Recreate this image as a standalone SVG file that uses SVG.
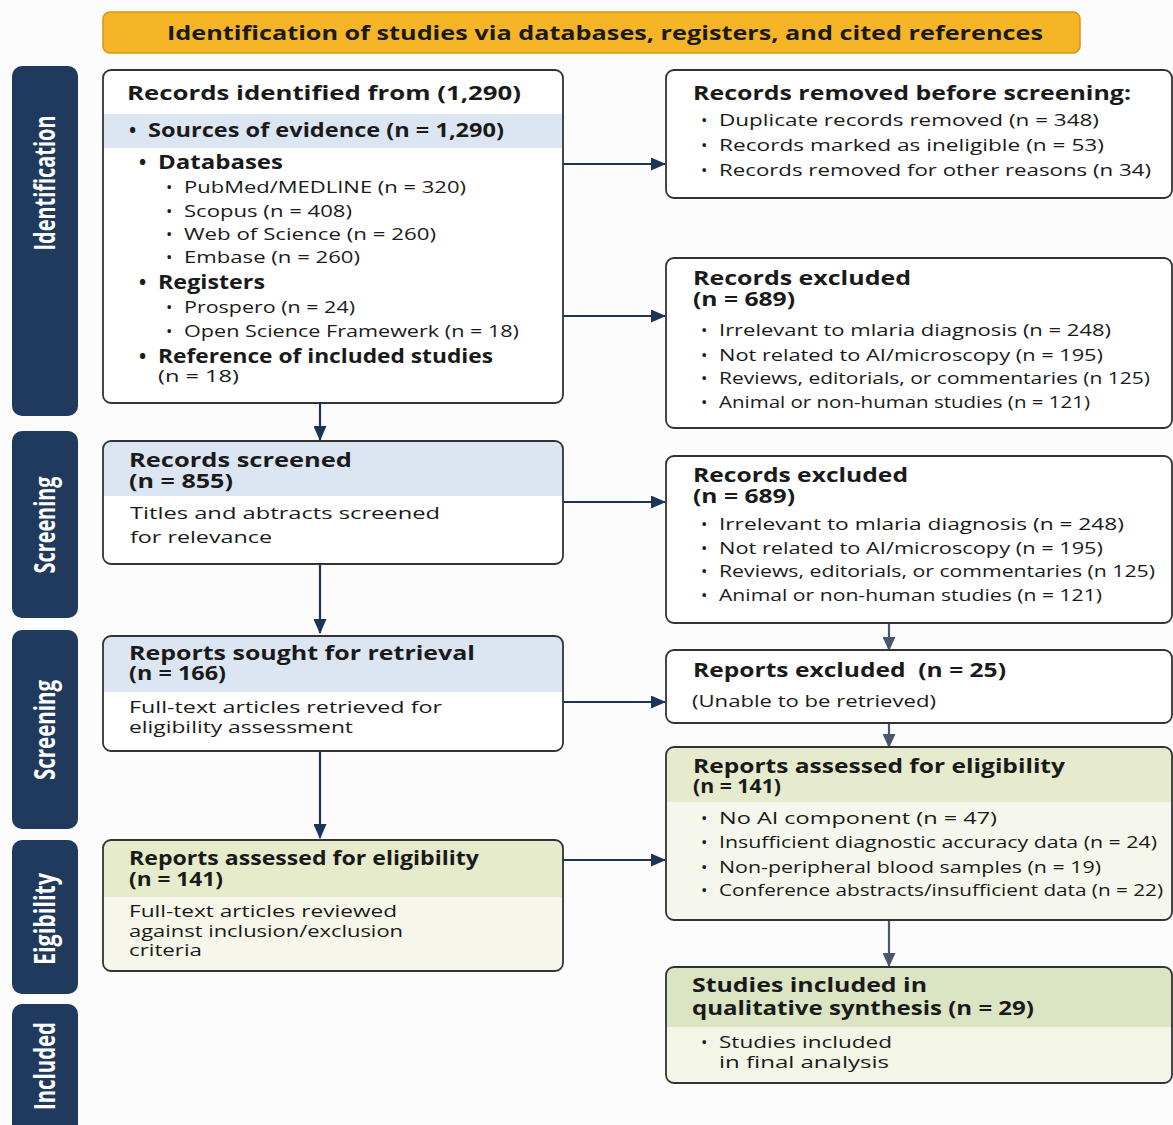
<svg xmlns="http://www.w3.org/2000/svg" width="1173" height="1125" viewBox="0 0 1173 1125">
<defs>
<style>
text{font-family:"Open Sans","Noto Sans",sans-serif;fill:#1a1a1a}
.t{font-size:19px;font-weight:700}
.b{font-size:17px;font-weight:400}
.side{font-size:28px;font-weight:700;fill:#ffffff;text-anchor:middle}
.lab{fill:#1F3A5C}
.box{fill:none;stroke:#333333;stroke-width:1.8}
.c{stroke:#1C3556;stroke-width:2.2;fill:none}
.g{stroke:#4A5670;stroke-width:2.2;fill:none}
</style>
<marker id="ah" viewBox="0 0 15 13" refX="14" refY="6.5" markerWidth="15" markerHeight="13" markerUnits="userSpaceOnUse" orient="auto">
<path d="M0,0 L15,6.5 L0,13 Z" fill="#1C3556"/>
</marker>
<marker id="ahg" viewBox="0 0 14 13" refX="13" refY="6.5" markerWidth="14" markerHeight="13" markerUnits="userSpaceOnUse" orient="auto">
<path d="M0,0 L14,6.5 L0,13 Z" fill="#4A5670"/>
</marker>
</defs>
<rect width="1173" height="1125" fill="#FCFCFC"/>

<g id="banner">
<rect x="103" y="12" width="977" height="41" rx="7" fill="#F6B526" stroke="#D9950F" stroke-width="1.5"/>
<text class="t" x="167" y="40" textLength="876" lengthAdjust="spacingAndGlyphs">Identification of studies via databases, registers, and cited references</text>
</g>

<g id="side-labels">
<g id="lab-identification"><rect class="lab" x="12" y="66" width="66" height="350" rx="10"/><text class="side" transform="translate(55,183) rotate(-90)" textLength="135" lengthAdjust="spacingAndGlyphs">Identification</text></g>
<g id="lab-screening1"><rect class="lab" x="12" y="431" width="66" height="187" rx="10"/><text class="side" transform="translate(55,525) rotate(-90)" textLength="97" lengthAdjust="spacingAndGlyphs">Screening</text></g>
<g id="lab-screening2"><rect class="lab" x="12" y="630" width="66" height="199" rx="10"/><text class="side" transform="translate(55,730) rotate(-90)" textLength="100" lengthAdjust="spacingAndGlyphs">Screening</text></g>
<g id="lab-eligibility"><rect class="lab" x="12" y="840" width="66" height="154" rx="10"/><text class="side" transform="translate(55,919) rotate(-90)" textLength="92" lengthAdjust="spacingAndGlyphs">Eigibility</text></g>
<g id="lab-included"><rect class="lab" x="12" y="1004" width="66" height="140" rx="10"/><text class="side" transform="translate(55,1066) rotate(-90)" textLength="88" lengthAdjust="spacingAndGlyphs">Included</text></g>
</g>

<g id="connectors">
<line class="c" x1="563" y1="164" x2="665" y2="164" marker-end="url(#ah)"/>
<line class="c" x1="563" y1="316" x2="665" y2="316" marker-end="url(#ah)"/>
<line class="c" x1="320" y1="403" x2="320" y2="440" marker-end="url(#ah)"/>
<line class="c" x1="563" y1="502" x2="665" y2="502" marker-end="url(#ah)"/>
<line class="c" x1="320" y1="564" x2="320" y2="633" marker-end="url(#ah)"/>
<line class="c" x1="563" y1="702" x2="665" y2="702" marker-end="url(#ah)"/>
<line class="c" x1="320" y1="751" x2="320" y2="838" marker-end="url(#ah)"/>
<line class="c" x1="563" y1="860" x2="665" y2="860" marker-end="url(#ah)"/>
<line class="g" x1="889" y1="623" x2="889" y2="650" marker-end="url(#ahg)"/>
<line class="g" x1="889" y1="723" x2="889" y2="747" marker-end="url(#ahg)"/>
<line class="g" x1="889" y1="920" x2="889" y2="966" marker-end="url(#ahg)"/>
</g>

<g id="n-identified">
<rect x="103" y="70" width="460" height="333" rx="8" fill="#FFFFFF"/>
<rect x="104" y="114" width="458" height="34" fill="#DCE6F3"/>
<rect class="box" x="103" y="70" width="460" height="333" rx="8"/>
<text class="t" x="127" y="100" textLength="394" lengthAdjust="spacingAndGlyphs">Records identified from (1,290)</text>
<text class="t" x="129" y="137">•</text>
<text class="t" x="148" y="137" textLength="356" lengthAdjust="spacingAndGlyphs">Sources of evidence (n = 1,290)</text>
<text class="t" x="139" y="169">•</text>
<text class="t" x="158" y="169" textLength="125" lengthAdjust="spacingAndGlyphs">Databases</text>
<text class="b" x="166" y="193">•</text>
<text class="b" x="184" y="193" textLength="282" lengthAdjust="spacingAndGlyphs">PubMed/MEDLINE (n = 320)</text>
<text class="b" x="166" y="217">•</text>
<text class="b" x="184" y="217" textLength="168" lengthAdjust="spacingAndGlyphs">Scopus (n = 408)</text>
<text class="b" x="166" y="240">•</text>
<text class="b" x="184" y="240" textLength="252" lengthAdjust="spacingAndGlyphs">Web of Science (n = 260)</text>
<text class="b" x="166" y="263">•</text>
<text class="b" x="184" y="263" textLength="176" lengthAdjust="spacingAndGlyphs">Embase (n = 260)</text>
<text class="t" x="139" y="289">•</text>
<text class="t" x="158" y="289" textLength="107" lengthAdjust="spacingAndGlyphs">Registers</text>
<text class="b" x="166" y="313">•</text>
<text class="b" x="184" y="313" textLength="171" lengthAdjust="spacingAndGlyphs">Prospero (n = 24)</text>
<text class="b" x="166" y="337">•</text>
<text class="b" x="184" y="337" textLength="335" lengthAdjust="spacingAndGlyphs">Open Science Framewerk (n = 18)</text>
<text class="t" x="139" y="363">•</text>
<text class="t"><tspan x="158" y="363" textLength="335" lengthAdjust="spacingAndGlyphs">Reference of included studies</tspan><tspan class="b" x="158" y="382" textLength="81" lengthAdjust="spacingAndGlyphs" style="font-size:17px;font-weight:400">(n = 18)</tspan></text>
</g>

<g id="n-removed">
<rect x="666" y="70" width="506" height="128" rx="8" fill="#FFFFFF"/>
<rect class="box" x="666" y="70" width="506" height="128" rx="8"/>
<text class="t" x="693" y="100" textLength="438" lengthAdjust="spacingAndGlyphs">Records removed before screening:</text>
<text class="b" x="701" y="126">•</text>
<text class="b" x="719" y="126" textLength="380" lengthAdjust="spacingAndGlyphs">Duplicate records removed (n = 348)</text>
<text class="b" x="701" y="151">•</text>
<text class="b" x="719" y="151" textLength="385" lengthAdjust="spacingAndGlyphs">Records marked as ineligible (n = 53)</text>
<text class="b" x="701" y="176">•</text>
<text class="b" x="719" y="176" textLength="432" lengthAdjust="spacingAndGlyphs">Records removed for other reasons (n 34)</text>
</g>

<g id="n-excluded1">
<rect x="666" y="258" width="506" height="170" rx="8" fill="#FFFFFF"/>
<rect class="box" x="666" y="258" width="506" height="170" rx="8"/>
<text class="t"><tspan x="693" y="285" textLength="218" lengthAdjust="spacingAndGlyphs">Records excluded</tspan><tspan x="693" y="306" textLength="102" lengthAdjust="spacingAndGlyphs">(n = 689)</tspan></text>
<text class="b" x="701" y="336">•</text>
<text class="b" x="719" y="336" textLength="392" lengthAdjust="spacingAndGlyphs">Irrelevant to mlaria diagnosis (n = 248)</text>
<text class="b" x="701" y="361">•</text>
<text class="b" x="719" y="361" textLength="384" lengthAdjust="spacingAndGlyphs">Not related to AI/microscopy (n = 195)</text>
<text class="b" x="701" y="384">•</text>
<text class="b" x="719" y="384" textLength="431" lengthAdjust="spacingAndGlyphs">Reviews, editorials, or commentaries (n 125)</text>
<text class="b" x="701" y="408">•</text>
<text class="b" x="719" y="408" textLength="371" lengthAdjust="spacingAndGlyphs">Animal or non-human studies (n = 121)</text>
</g>

<g id="n-screened">
<rect x="103" y="441" width="460" height="123" rx="8" fill="#FFFFFF"/>
<path d="M103,496 V449 Q103,441 111,441 H555 Q563,441 563,449 V496 Z" fill="#DCE6F3"/>
<rect class="box" x="103" y="441" width="460" height="123" rx="8"/>
<text class="t"><tspan x="129" y="467" textLength="223" lengthAdjust="spacingAndGlyphs">Records screened</tspan><tspan x="129" y="488" textLength="104" lengthAdjust="spacingAndGlyphs">(n = 855)</tspan></text>
<text class="b" x="130" y="519" textLength="310" lengthAdjust="spacingAndGlyphs">Titles and abtracts screened</text>
<text class="b" x="130" y="543" textLength="142" lengthAdjust="spacingAndGlyphs">for relevance</text>
</g>

<g id="n-excluded2">
<rect x="666" y="456" width="506" height="167" rx="8" fill="#FFFFFF"/>
<rect class="box" x="666" y="456" width="506" height="167" rx="8"/>
<text class="t"><tspan x="693" y="482" textLength="215" lengthAdjust="spacingAndGlyphs">Records excluded</tspan><tspan x="693" y="503" textLength="102" lengthAdjust="spacingAndGlyphs">(n = 689)</tspan></text>
<text class="b" x="701" y="530">•</text>
<text class="b" x="719" y="530" textLength="405" lengthAdjust="spacingAndGlyphs">Irrelevant to mlaria diagnosis (n = 248)</text>
<text class="b" x="701" y="554">•</text>
<text class="b" x="719" y="554" textLength="384" lengthAdjust="spacingAndGlyphs">Not related to AI/microscopy (n = 195)</text>
<text class="b" x="701" y="577">•</text>
<text class="b" x="719" y="577" textLength="436" lengthAdjust="spacingAndGlyphs">Reviews, editorials, or commentaries (n 125)</text>
<text class="b" x="701" y="601">•</text>
<text class="b" x="719" y="601" textLength="383" lengthAdjust="spacingAndGlyphs">Animal or non-human studies (n = 121)</text>
</g>

<g id="n-sought">
<rect x="103" y="636" width="460" height="115" rx="8" fill="#FFFFFF"/>
<path d="M103,692 V644 Q103,636 111,636 H555 Q563,636 563,644 V692 Z" fill="#DCE6F3"/>
<rect class="box" x="103" y="636" width="460" height="115" rx="8"/>
<text class="t"><tspan x="129" y="660" textLength="346" lengthAdjust="spacingAndGlyphs">Reports sought for retrieval</tspan><tspan x="129" y="680" textLength="97" lengthAdjust="spacingAndGlyphs">(n = 166)</tspan></text>
<text class="b"><tspan x="129" y="713" textLength="313" lengthAdjust="spacingAndGlyphs">Full-text articles retrieved for</tspan><tspan x="129" y="733" textLength="224" lengthAdjust="spacingAndGlyphs">eligibility assessment</tspan></text>
</g>

<g id="n-reports-excluded">
<rect x="666" y="650" width="506" height="73" rx="8" fill="#FFFFFF"/>
<rect class="box" x="666" y="650" width="506" height="73" rx="8"/>
<text class="t" x="693" y="677" textLength="313" lengthAdjust="spacingAndGlyphs" xml:space="preserve">Reports excluded  (n = 25)</text>
<text class="b" x="692" y="707" textLength="244" lengthAdjust="spacingAndGlyphs">(Unable to be retrieved)</text>
</g>

<g id="n-assessed-right">
<rect x="666" y="747" width="506" height="173" rx="8" fill="#F6F7EC"/>
<path d="M666,802 V755 Q666,747 674,747 H1164 Q1172,747 1172,755 V802 Z" fill="#E6EBCD"/>
<rect class="box" x="666" y="747" width="506" height="173" rx="8"/>
<text class="t"><tspan x="693" y="773" textLength="372" lengthAdjust="spacingAndGlyphs">Reports assessed for eligibility</tspan><tspan x="693" y="793" textLength="88" lengthAdjust="spacingAndGlyphs">(n = 141)</tspan></text>
<text class="b" x="701" y="824">•</text>
<text class="b" x="719" y="824" textLength="278" lengthAdjust="spacingAndGlyphs">No AI component (n = 47)</text>
<text class="b" x="701" y="848">•</text>
<text class="b" x="719" y="848" textLength="438" lengthAdjust="spacingAndGlyphs">Insufficient diagnostic accuracy data (n = 24)</text>
<text class="b" x="701" y="873">•</text>
<text class="b" x="719" y="873" textLength="382" lengthAdjust="spacingAndGlyphs">Non-peripheral blood samples (n = 19)</text>
<text class="b" x="701" y="896">•</text>
<text class="b" x="719" y="896" textLength="444" lengthAdjust="spacingAndGlyphs">Conference abstracts/insufficient data (n = 22)</text>
</g>

<g id="n-assessed-left">
<rect x="103" y="840" width="460" height="131" rx="8" fill="#F6F6EA"/>
<path d="M103,897 V848 Q103,840 111,840 H555 Q563,840 563,848 V897 Z" fill="#E6EBCB"/>
<rect class="box" x="103" y="840" width="460" height="131" rx="8"/>
<text class="t"><tspan x="129" y="865" textLength="350" lengthAdjust="spacingAndGlyphs">Reports assessed for eligibility</tspan><tspan x="129" y="886" textLength="94" lengthAdjust="spacingAndGlyphs">(n = 141)</tspan></text>
<text class="b"><tspan x="129" y="917" textLength="268" lengthAdjust="spacingAndGlyphs">Full-text articles reviewed</tspan><tspan x="129" y="937" textLength="274" lengthAdjust="spacingAndGlyphs">against inclusion/exclusion</tspan><tspan x="129" y="956" textLength="73" lengthAdjust="spacingAndGlyphs">criteria</tspan></text>
</g>

<g id="n-included">
<rect x="666" y="967" width="506" height="116" rx="8" fill="#F3F5E6"/>
<path d="M666,1027 V975 Q666,967 674,967 H1164 Q1172,967 1172,975 V1027 Z" fill="#DCE5C3"/>
<rect class="box" x="666" y="967" width="506" height="116" rx="8"/>
<text class="t"><tspan x="692" y="992" textLength="235" lengthAdjust="spacingAndGlyphs">Studies included in</tspan><tspan x="692" y="1015" textLength="342" lengthAdjust="spacingAndGlyphs">qualitative synthesis (n = 29)</tspan></text>
<text class="b" x="701" y="1048">•</text>
<text class="b"><tspan x="719" y="1048" textLength="173" lengthAdjust="spacingAndGlyphs">Studies included</tspan><tspan x="719" y="1068" textLength="170" lengthAdjust="spacingAndGlyphs">in final analysis</tspan></text>
</g>
</svg>
